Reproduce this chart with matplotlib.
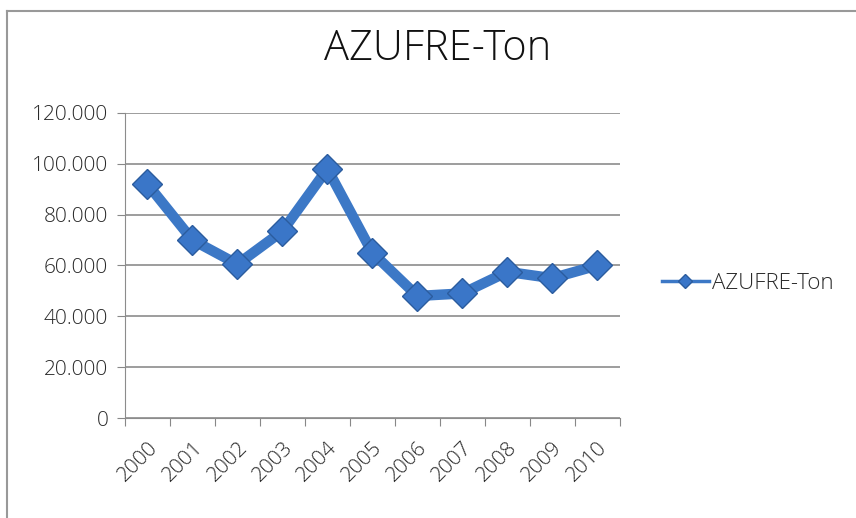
import matplotlib.pyplot as plt
from matplotlib.lines import Line2D
from matplotlib.ticker import FuncFormatter

years = ["2000", "2001", "2002", "2003", "2004", "2005",
         "2006", "2007", "2008", "2009", "2010"]
azufre = [92000, 70000, 60500, 73500, 98000, 65000,
          48000, 49000, 57500, 55000, 60000]
y_ticks = [0, 20000, 40000, 60000, 80000, 100000, 120000]

plt.rcParams['font.family'] = ['Open Sans', 'DejaVu Sans']
plt.rcParams['font.weight'] = 'light'

fig = plt.figure(figsize=(8.56, 5.18), dpi=100)
ax = fig.add_axes([0.146, 0.193, 0.578, 0.589])

x = [i + 0.5 for i in range(len(years))]
ax.plot(x, azufre, color='#3c78c6', linewidth=7.5, marker='D', markersize=15,
        markerfacecolor='#3a76c8', markeredgecolor='#2b5c9e', markeredgewidth=1,
        label="AZUFRE-Ton", solid_joinstyle='round', zorder=3)

ax.set_xlim(0, len(years))
ax.set_ylim(0, 120000)
ax.set_yticks(y_ticks)
ax.yaxis.set_major_formatter(FuncFormatter(lambda v, p: "0" if v == 0 else f"{int(v):,}".replace(",", ".")))
ax.set_xticks(range(len(years) + 1))
ax.set_xticklabels([])
ax.set_xticks(x, minor=True)
ax.set_xticklabels(years, minor=True, rotation=45, ha='right', rotation_mode='anchor')
ax.tick_params(axis='x', which='minor', length=0, labelsize=15, colors='#2a2a2a', pad=14)
ax.tick_params(axis='x', which='major', length=6, color='#888888', direction='out')
ax.tick_params(axis='y', length=6, color='#888888', labelsize=15, labelcolor='#2a2a2a', pad=6)

ax.grid(axis='y', color='#8c8c8c', linewidth=1.2)
ax.set_axisbelow(True)
for side in ['top', 'right']:
    ax.spines[side].set_visible(False)
ax.spines['left'].set_color('#8c8c8c')
ax.spines['bottom'].set_color('#8c8c8c')

fig.text(0.511, 0.905, "AZUFRE-Ton", fontsize=30, ha='center', va='center', color='#111111')

leg = fig.legend(loc='center left', bbox_to_anchor=(0.75, 0.453), frameon=False,
                 fontsize=16, handlelength=2.1, handletextpad=0.15, markerscale=0.5)
for t in leg.get_texts():
    t.set_color('#2a2a2a')
for h in leg.legend_handles:
    h.set_linewidth(2.5)

# only top and left edges of the chart border are visible
fig.add_artist(Line2D([0.008, 1.0], [0.979, 0.979], transform=fig.transFigure,
                      color='#999999', linewidth=1.5))
fig.add_artist(Line2D([0.008, 0.008], [0.0, 0.979], transform=fig.transFigure,
                      color='#999999', linewidth=1.5))

fig.savefig("out.png", dpi=100)
